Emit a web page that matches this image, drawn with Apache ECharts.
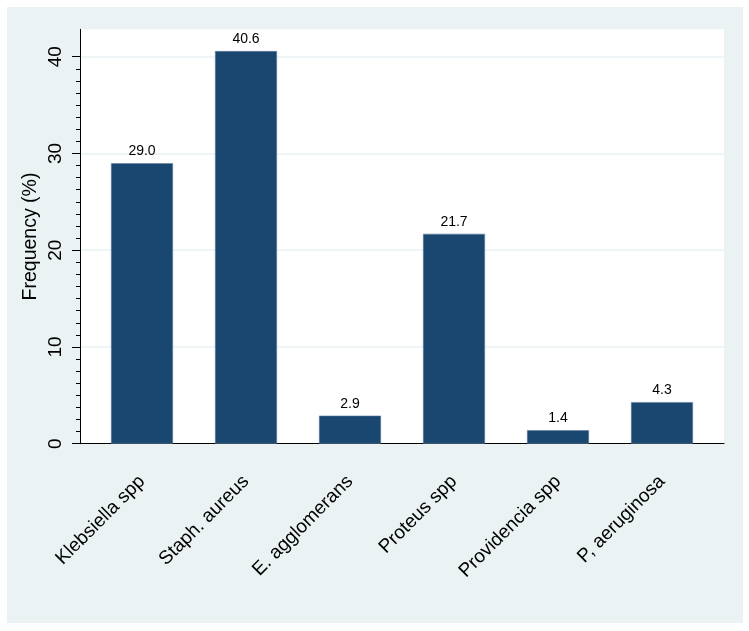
<!DOCTYPE html>
<html>
<head>
<meta charset="utf-8">
<script src="https://cdn.jsdelivr.net/npm/echarts@6/dist/echarts.min.js"></script>
<style>
html,body{margin:0;padding:0;background:#ffffff;width:749px;height:631px;overflow:hidden;}
#c{position:absolute;left:7px;top:7px;width:736px;height:616px;background:#eaf2f3;}
</style>
</head>
<body>
<div id="c"></div>
<script>
const categories = ['Klebsiella spp', 'Staph. aureus', 'E. agglomerans', 'Proteus spp', 'Providencia spp', 'P, aeruginosa'];
const frequency = [29.0, 40.6, 2.9, 21.7, 1.4, 4.3];
const yTicks = [0, 10, 20, 30, 40];

const FONT = 'Liberation Sans, Arial, Helvetica, sans-serif';
const Y_MAX = 42.85;
const chart = echarts.init(document.getElementById('c'), null, {renderer: 'canvas'});

chart.setOption({
  backgroundColor: '#eaf2f3',
  animation: false,
  grid: [
    {left: 73, right: 19, top: 22.3, bottom: 179.3, show: true, backgroundColor: '#ffffff', borderWidth: 0, containLabel: false},
    {left: 73, right: 19, top: 49.7, bottom: 179.3, show: false, containLabel: false},
    {left: 83, width: 624, top: 22.3, bottom: 179.3, show: false, containLabel: false}
  ],
  xAxis: [
    {gridIndex: 0, type: 'value', min: 0, max: 1, axisLine: {show: true, onZero: false, lineStyle: {color: '#000', width: 1}}, axisTick: {show: false}, axisLabel: {show: false}, splitLine: {show: false}},
    {gridIndex: 1, type: 'value', min: 0, max: 1, show: false},
    {gridIndex: 2, type: 'category', data: categories, axisLine: {show: false}, axisTick: {show: false}, splitLine: {show: false},
      axisLabel: {interval: 0, rotate: 45, margin: 35, fontSize: 19, color: '#000', fontFamily: FONT}}
  ],
  yAxis: [
    {gridIndex: 0, type: 'value', min: 0, max: Y_MAX, axisLine: {show: true, onZero: false, lineStyle: {color: '#000', width: 1}}, axisTick: {show: false}, axisLabel: {show: false}, splitLine: {show: false},
      name: 'Frequency (%)', nameLocation: 'middle', nameGap: 39, nameTextStyle: {fontSize: 19.5, color: '#000', fontFamily: FONT}},
    {gridIndex: 1, type: 'value', min: yTicks[0], max: yTicks[yTicks.length - 1], interval: 10,
      axisLine: {show: false}, axisTick: {show: true, length: 8, lineStyle: {color: '#000', width: 1}},
      minorTick: {show: true, splitNumber: 8, length: 4, lineStyle: {color: '#000', width: 1}},
      axisLabel: {rotate: 90, margin: 15, fontSize: 19, color: '#000', fontFamily: FONT},
      splitLine: {show: true, lineStyle: {color: '#eaf2f3', width: 1.5}}},
    {gridIndex: 2, type: 'value', min: 0, max: Y_MAX, show: false}
  ],
  series: [{
    type: 'bar',
    xAxisIndex: 2, yAxisIndex: 2,
    data: frequency,
    barWidth: 62,
    itemStyle: {color: '#1a476f', borderColor: '#5f7f9e', borderWidth: 0.6},
    label: {show: true, position: 'top', distance: 5, fontSize: 14, color: '#000', fontFamily: FONT,
      formatter: p => p.value.toFixed(1)}
  }]
});
</script>
</body>
</html>
